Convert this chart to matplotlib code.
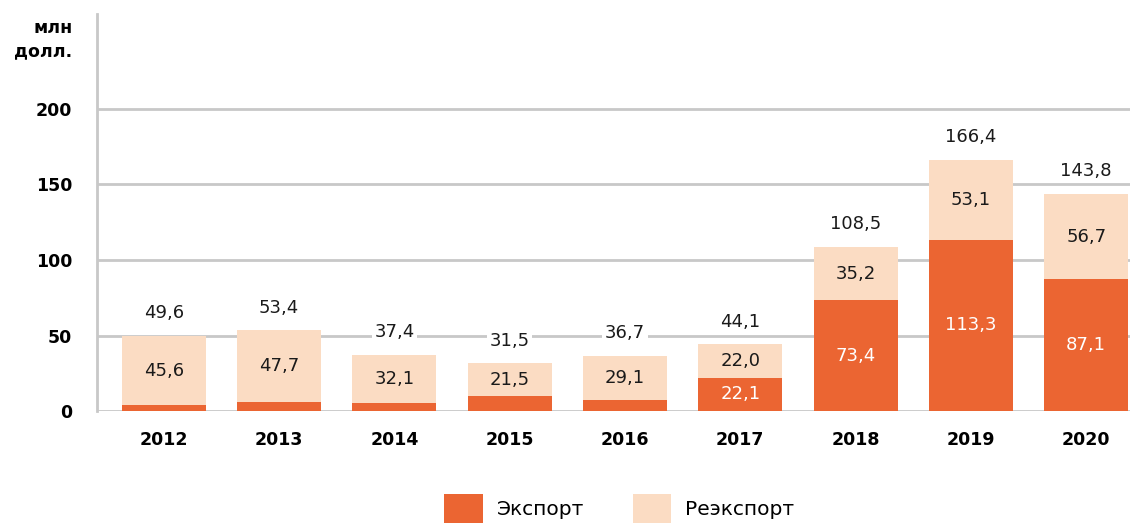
import matplotlib.pyplot as plt
from matplotlib.patches import Patch

plt.rcParams['font.family'] = ['DejaVu Sans']

years = ['2012', '2013', '2014', '2015', '2016', '2017', '2018', '2019', '2020']
export = [4.0, 5.7, 5.3, 10.0, 7.6, 22.1, 73.4, 113.3, 87.1]
reexport = [45.6, 47.7, 32.1, 21.5, 29.1, 22.0, 35.2, 53.1, 56.7]
totals = ['49,6', '53,4', '37,4', '31,5', '36,7', '44,1', '108,5', '166,4', '143,8']
export_labels = [None, None, None, None, None, '22,1', '73,4', '113,3', '87,1']

c_exp = '#EB6532'
c_re = '#FBDCC3'
grid_c = '#C8C8C8'

fig = plt.figure(figsize=(11.3, 5.25), dpi=100)
ax = fig.add_axes([0.0858, 0.217, 0.9142, 0.756])

x = list(range(len(years)))
w = 0.73
ax.bar(x, export, w, color=c_exp, zorder=3)
ax.bar(x, reexport, w, bottom=export, color=c_re, zorder=3)

for i in x:
    top = export[i] + reexport[i]
    ax.text(i, top + 15, totals[i], ha='center', va='center', fontsize=13,
            color='#1a1a1a', zorder=4,
            bbox=dict(facecolor='white', edgecolor='none', pad=2))
    ax.text(i, export[i] + reexport[i] / 2, f'{reexport[i]:.1f}'.replace('.', ','),
            ha='center', va='center', fontsize=13, color='#1a1a1a', zorder=4)
    if export_labels[i]:
        ax.text(i, export[i] / 2, export_labels[i], ha='center', va='center',
                fontsize=13, color='white', zorder=4)

ax.set_xlim(-0.58, 8.38)
ax.set_ylim(0, 262.6)
ax.set_yticks([0, 50, 100, 150, 200])
ax.set_xticks(x)
ax.set_xticklabels(years, fontsize=12.5, fontweight='bold')
for lab in ax.get_yticklabels():
    lab.set_fontsize(12.5)
    lab.set_fontweight('bold')
ax.tick_params(axis='y', length=0, pad=18)
ax.tick_params(axis='x', length=0, pad=14)
ax.grid(axis='y', color=grid_c, linewidth=2, zorder=0)
for s in ['top', 'right', 'bottom']:
    ax.spines[s].set_visible(False)
ax.spines['left'].set_color(grid_c)
ax.spines['left'].set_linewidth(2)

fig.text(0.064, 0.925, 'млн\nдолл.', ha='right', va='center', fontsize=12.5,
         fontweight='bold', linespacing=1.35)

handles = [Patch(facecolor=c_exp), Patch(facecolor=c_re)]
fig.legend(handles, ['Экспорт', 'Реэкспорт'], loc='lower center',
           bbox_to_anchor=(0.548, -0.03), ncol=2, frameon=False, fontsize=14.5,
           handlelength=1.9, handleheight=1.8, columnspacing=2.4, handletextpad=0.7)

fig.savefig('out.png', dpi=100)
